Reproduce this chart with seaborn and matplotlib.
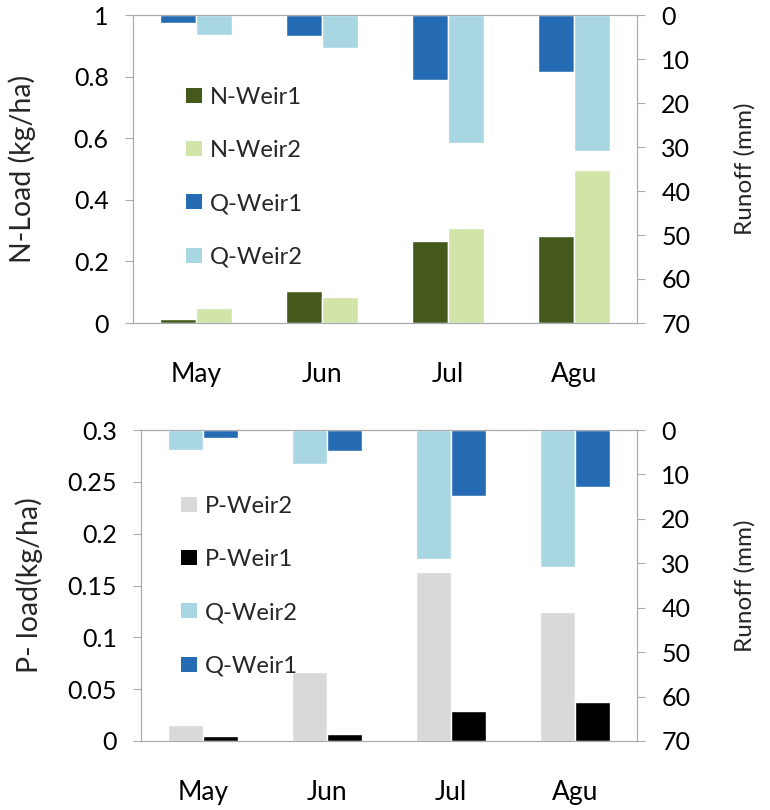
import matplotlib
matplotlib.use("Agg")
import matplotlib.pyplot as plt
import numpy as np
import pandas as pd
import seaborn as sns
from matplotlib.patches import Patch

# Monthly loads and runoff at the two weirs
months = ["May", "Jun", "Jul", "Agu"]
n_weir1 = [0.012, 0.105, 0.265, 0.283]
n_weir2 = [0.050, 0.085, 0.307, 0.498]
p_weir2 = [0.015, 0.067, 0.163, 0.124]
p_weir1 = [0.005, 0.007, 0.029, 0.038]
q_weir1 = [1.9, 4.8, 14.8, 12.9]
q_weir2 = [4.5, 7.6, 29.1, 30.9]

n_ticks = [0, 0.2, 0.4, 0.6, 0.8, 1]
n_ticklabels = ["0", "0.2", "0.4", "0.6", "0.8", "1"]
p_ticks = [0, 0.05, 0.1, 0.15, 0.2, 0.25, 0.3]
p_ticklabels = ["0", "0.05", "0.1", "0.15", "0.2", "0.25", "0.3"]
r_ticks = [0, 10, 20, 30, 40, 50, 60, 70]

colors = {
    "N-Weir1": "#46591C",
    "N-Weir2": "#D3E4A8",
    "P-Weir2": "#D9D9D9",
    "P-Weir1": "#000000",
    "Q-Weir1": "#266CB4",
    "Q-Weir2": "#A8D6E2",
}

sns.set_style("white")
plt.rcParams["font.family"] = ["Lato", "DejaVu Sans"]

GRAY = "#ABABAB"
W, H = 770, 810


def long_df(series, value_name):
    rows = []
    for name, vals in series.items():
        for m, v in zip(months, vals):
            rows.append({"Month": m, "Series": name, value_name: v})
    return pd.DataFrame(rows)


runoff_df = long_df({"Q-Weir1": q_weir1, "Q-Weir2": q_weir2}, "Runoff")


def panel(ax, load_series, q_order, ylim, ticks, ticklabels, ylabel,
          legend_order, legend_xy, ylabel_x):
    load_df = long_df(load_series, "Load")
    load_order = list(load_series.keys())
    sns.barplot(data=load_df, x="Month", y="Load", hue="Series",
                order=months, hue_order=load_order,
                palette=[colors[k] for k in load_order], width=0.565,
                saturation=1, errorbar=None, legend=False, ax=ax)
    ax2 = ax.twinx()
    sns.barplot(data=runoff_df, x="Month", y="Runoff", hue="Series",
                order=months, hue_order=q_order,
                palette=[colors[k] for k in q_order], width=0.565,
                saturation=1, errorbar=None, legend=False, ax=ax2)
    ax.set_xlim(-0.5, 3.5)
    ax.set_ylim(*ylim)
    ax2.set_ylim(70, 0)

    ax.set_yticks(ticks)
    ax.set_yticklabels(ticklabels)
    ax2.set_yticks(r_ticks)
    ax2.set_yticklabels([str(t) for t in r_ticks])

    ax.set_xticks(range(len(months)))
    ax.set_xticklabels(months)
    ax.set_xticks(np.arange(-0.5, len(months), 1.0), minor=True)
    ax.tick_params(axis="x", which="major", length=0, pad=28,
                   labelsize=19, colors="black")
    ax.tick_params(axis="x", which="minor", length=7.5, width=0.8,
                   direction="out", color=GRAY)
    ax.tick_params(axis="y", length=5.5, width=0.8, direction="out",
                   color=GRAY, pad=12, labelsize=18, labelcolor="black")
    ax2.tick_params(axis="y", length=5.5, width=0.8, direction="out",
                    color=GRAY, pad=12, labelsize=18, labelcolor="black")

    for a in (ax, ax2):
        for s in a.spines.values():
            s.set_color(GRAY)
            s.set_linewidth(0.8)
            s.set_visible(True)
        a.grid(False)

    ax.set_xlabel("")
    ax.set_ylabel(ylabel, fontsize=20.5, va="center")
    ax2.set_ylabel("Runoff (mm)", fontsize=17.5, va="center", rotation=90)

    bbox = ax.get_position()
    left_px = bbox.x0 * W
    right_px = bbox.x1 * W
    width_px = right_px - left_px
    ax.yaxis.set_label_coords((ylabel_x - left_px) / width_px, 0.5)
    ax2.yaxis.set_label_coords((745 - left_px) / width_px, 0.5)

    handles = [Patch(facecolor=colors[k], edgecolor="none", label=k)
               for k in legend_order]
    ax2.legend(handles=handles, loc="upper left",
               bbox_to_anchor=(legend_xy[0] / W, 1 - legend_xy[1] / H),
               bbox_transform=fig.transFigure, frameon=False,
               borderpad=0, borderaxespad=0, handlelength=0.68,
               handleheight=0.6, handletextpad=0.35, labelspacing=1.36,
               fontsize=17)


fig = plt.figure(figsize=(W / 100, H / 100), dpi=100)
ax_n = fig.add_axes([133 / W, 1 - 323 / H, 504 / W, 308 / H])
ax_p = fig.add_axes([141 / W, 1 - 741 / H, 496 / W, 311 / H])

panel(ax_n, {"N-Weir1": n_weir1, "N-Weir2": n_weir2},
      ["Q-Weir1", "Q-Weir2"], (0, 1), n_ticks, n_ticklabels,
      "N-Load (kg/ha)", ["N-Weir1", "N-Weir2", "Q-Weir1", "Q-Weir2"],
      (186, 87), 22)
panel(ax_p, {"P-Weir2": p_weir2, "P-Weir1": p_weir1},
      ["Q-Weir2", "Q-Weir1"], (0, 0.3), p_ticks, p_ticklabels,
      "P- load(kg/ha)", ["P-Weir2", "P-Weir1", "Q-Weir2", "Q-Weir1"],
      (181, 496), 29)

fig.savefig("out.png", dpi=100, facecolor="white")
